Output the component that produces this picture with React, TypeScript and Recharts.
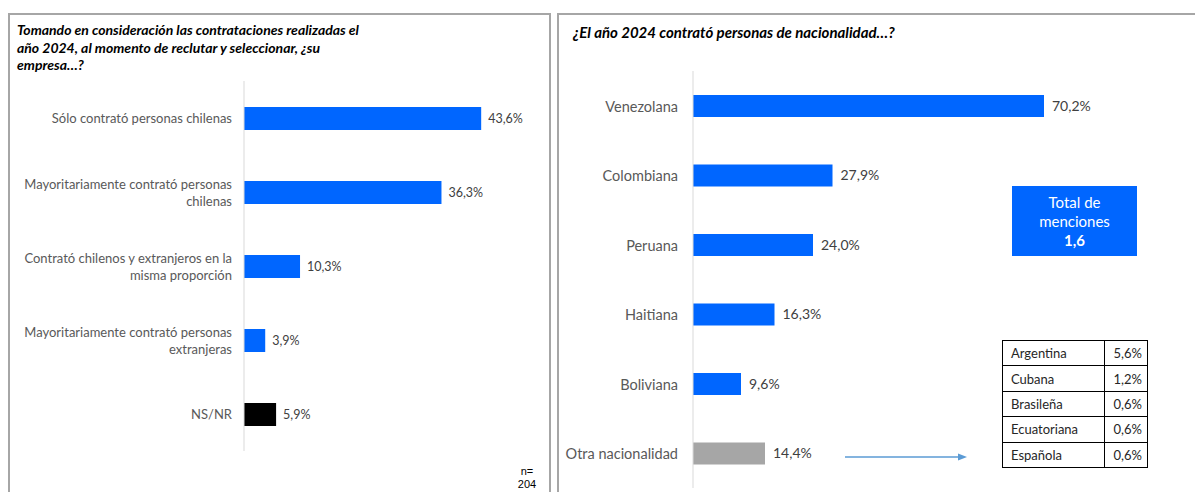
import { BarChart, Bar, XAxis, YAxis, Cell, LabelList } from "recharts"

// Left chart: recruitment question
const leftCategories = [
  "Sólo contrató personas chilenas",
  "Mayoritariamente contrató personas\nchilenas",
  "Contrató chilenos y extranjeros en la\nmisma proporción",
  "Mayoritariamente contrató personas\nextranjeras",
  "NS/NR",
]
const leftValues = [43.6, 36.3, 10.3, 3.9, 5.9]

// Right chart: nationalities
const rightCategories = ["Venezolana", "Colombiana", "Peruana", "Haitiana", "Boliviana", "Otra nacionalidad"]
const rightValues = [70.2, 27.9, 24.0, 16.3, 9.6, 14.4]

// Breakdown of "Otra nacionalidad"
const otherNames = ["Argentina", "Cubana", "Brasileña", "Ecuatoriana", "Española"]
const otherValues = [5.6, 1.2, 0.6, 0.6, 0.6]

const totalMentions = 1.6
const sampleSize = 204

const BLUE = "#0066ff"
const FONT = "Lato, 'Open Sans', sans-serif"

const fmt = (v: number) => v.toFixed(1).replace(".", ",") + "%"

function MultiTick(props: any) {
  const { x, y, payload, fontSize, lineHeight } = props
  const lines = String(payload.value).split("\n")
  const startY = y - ((lines.length - 1) * lineHeight) / 2
  return (
    <text x={x} y={startY} textAnchor="end" fill="#595959" fontSize={fontSize} fontFamily={FONT} dominantBaseline="central">
      {lines.map((l, i) => (
        <tspan key={i} x={x} y={startY + i * lineHeight} dominantBaseline="central">
          {l}
        </tspan>
      ))}
    </text>
  )
}

export default function App() {
  const leftData = leftCategories.map((name, i) => ({ name, value: leftValues[i] }))
  const rightData = rightCategories.map((name, i) => ({ name, value: rightValues[i] }))

  return (
    <div style={{ position: "absolute", left: 0, top: 0, width: 1195, height: 492, background: "#fff", overflow: "hidden", fontFamily: FONT }}>
      {/* panel frames */}
      <div style={{ position: "absolute", left: 8, top: 13, width: 539, height: 490, border: "2px solid #a6a6a6" }} />
      <div style={{ position: "absolute", left: 557, top: 13, width: 650, height: 490, border: "2px solid #a6a6a6" }} />

      <div style={{ position: "absolute", left: 17, top: 21, width: 420, fontSize: 14, lineHeight: "17.5px", fontWeight: 700, fontStyle: "italic", color: "#000" }}>
        Tomando en consideración las contrataciones realizadas el<br />
        año 2024, al momento de reclutar y seleccionar, ¿su<br />
        empresa…?
      </div>
      <div style={{ position: "absolute", left: 573, top: 23, fontSize: 15, fontWeight: 700, fontStyle: "italic", color: "#000" }}>
        ¿El año 2024 contrató personas de nacionalidad…?
      </div>

      <div style={{ position: "absolute", left: 0, top: 0 }}>
        <BarChart width={560} height={492} data={leftData} layout="vertical" margin={{ top: 81, right: 44, left: 0, bottom: 41 }}>
          <XAxis type="number" domain={[0, 50]} hide />
          <YAxis
            type="category"
            dataKey="name"
            width={244}
            tickSize={0}
            tickMargin={12}
            axisLine={{ stroke: "#d9d9d9" }}
            tickLine={false}
            interval={0}
            tick={<MultiTick fontSize={13} lineHeight={17} />}
          />
          <Bar dataKey="value" barSize={23} isAnimationActive={false}>
            {leftData.map((d, i) => (
              <Cell key={i} fill={d.name === "NS/NR" ? "#000000" : BLUE} />
            ))}
            <LabelList dataKey="value" position="right" offset={7} formatter={(v: any) => fmt(Number(v))} fill="#404040" fontSize={12.5} fontFamily={FONT} />
          </Bar>
        </BarChart>
      </div>

      <div style={{ position: "absolute", left: 557, top: 0 }}>
        <BarChart width={638} height={492} data={rightData} layout="vertical" margin={{ top: 71, right: 102, left: 0, bottom: 4 }}>
          <XAxis type="number" domain={[0, 80]} hide />
          <YAxis
            type="category"
            dataKey="name"
            width={136}
            tickSize={0}
            tickMargin={15}
            axisLine={{ stroke: "#d9d9d9" }}
            tickLine={false}
            interval={0}
            tick={<MultiTick fontSize={14.5} lineHeight={17} />}
          />
          <Bar dataKey="value" barSize={22} isAnimationActive={false}>
            {rightData.map((d, i) => (
              <Cell key={i} fill={d.name === "Otra nacionalidad" ? "#a6a6a6" : BLUE} />
            ))}
            <LabelList dataKey="value" position="right" offset={8} formatter={(v: any) => fmt(Number(v))} fill="#404040" fontSize={14} fontFamily={FONT} />
          </Bar>
        </BarChart>
      </div>

      {/* total mentions box */}
      <div
        style={{
          position: "absolute",
          left: 1012,
          top: 186,
          width: 125,
          height: 70,
          background: BLUE,
          color: "#fff",
          textAlign: "center",
          fontSize: 15,
          lineHeight: "19px",
          paddingTop: 7,
          boxSizing: "border-box",
        }}
      >
        Total de
        <br />
        menciones
        <br />
        <b>{String(totalMentions).replace(".", ",")}</b>
      </div>

      {/* arrow */}
      <svg style={{ position: "absolute", left: 0, top: 0 }} width={1195} height={492}>
        <line x1={845} y1={457} x2={960} y2={457} stroke="#5b9bd5" strokeWidth={1.5} />
        <polygon points="967,457 958,453.5 958,460.5" fill="#5b9bd5" />
      </svg>

      {/* breakdown table */}
      <table
        style={{
          position: "absolute",
          left: 1002,
          top: 340,
          width: 146,
          borderCollapse: "collapse",
          fontSize: 13,
          color: "#262626",
        }}
      >
        <tbody>
          {otherNames.map((n, i) => (
            <tr key={n} style={{ height: 25.4 }}>
              <td style={{ border: "1.5px solid #000", padding: "0 0 0 8px", width: 93 }}>{n}</td>
              <td style={{ border: "1.5px solid #000", padding: "0 5px 0 0", textAlign: "right" }}>{fmt(otherValues[i])}</td>
            </tr>
          ))}
        </tbody>
      </table>

      <div style={{ position: "absolute", left: 514, top: 465, fontSize: 11, lineHeight: "13px", fontFamily: "Arial, 'Liberation Sans', sans-serif", color: "#000", textAlign: "center", width: 26 }}>
        n=
        <br />
        {sampleSize}
      </div>
    </div>
  )
}
